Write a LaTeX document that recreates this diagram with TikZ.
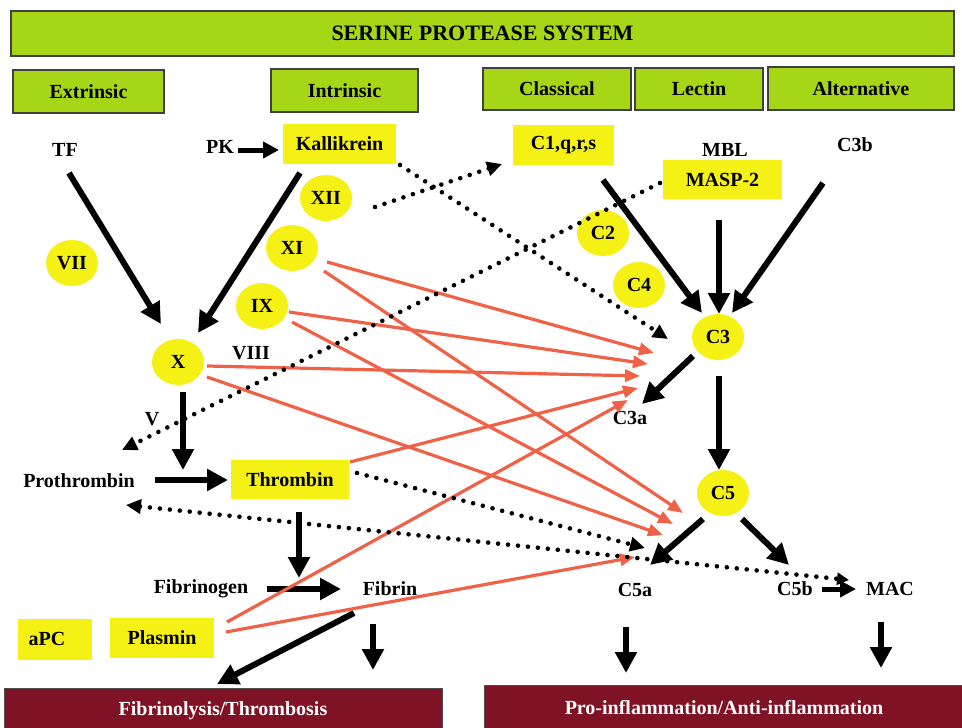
\documentclass[tikz,border=0pt]{standalone}
\usepackage{fontspec}
\setmainfont{Liberation Serif}
\usetikzlibrary{arrows.meta,shapes.geometric}
\definecolor{spgreen}{RGB}{166,214,22}
\definecolor{spyellow}{RGB}{246,241,20}
\definecolor{spred}{RGB}{240,98,72}
\definecolor{spmaroon}{RGB}{128,18,38}
\tikzset{
  txt/.style={font=\fontsize{20}{22}\selectfont\bfseries, inner sep=0pt},
  gbox/.style={txt, draw=black!75, line width=1.3pt, fill=spgreen},
  ybox/.style={txt, fill=spyellow},
  yell/.style={txt, ellipse, fill=spyellow, minimum width=52pt, minimum height=46pt},
  mbox/.style={txt, draw=black!70, line width=1pt, fill=spmaroon, text=white},
  blk/.style={line width=6pt, -{Triangle[length=21pt,width=21pt]}},
  blks/.style={line width=5pt, -{Triangle[length=16pt,width=16pt]}},
  redar/.style={draw=spred, line width=3.2pt, -{Triangle[length=15pt,width=12pt]}},
  dotl/.style={line width=4.6pt, line cap=round, dash pattern=on 0pt off 10pt},
  dotar/.style={dotl, -{Triangle[length=15pt,width=14pt]}},
  dotdbl/.style={dotl, {Triangle[length=15pt,width=14pt]}-{Triangle[length=12pt,width=12pt]}},
}
\begin{document}
\begin{tikzpicture}[x=1pt,y=-1pt]
\useasboundingbox[fill=white] (0,0) rectangle (962,728);

% header boxes
\node[gbox, minimum width=943pt, minimum height=45pt] (title) at (482.5,33.5) {\fontsize{22}{24}\selectfont SERINE PROTEASE SYSTEM};
\node[gbox, minimum width=151pt, minimum height=43pt] (extr) at (88.5,91.5) {Extrinsic};
\node[gbox, minimum width=147pt, minimum height=43pt] (intr) at (344.5,90.5) {Intrinsic};
\node[gbox, minimum width=148pt, minimum height=42pt] (class) at (557,89) {Classical};
\node[gbox, minimum width=128pt, minimum height=42pt] (lect) at (699,89) {Lectin};
\node[gbox, minimum width=186pt, minimum height=43pt] (alt) at (861,88.5) {Alternative};

% bottom boxes
\node[mbox, minimum width=438pt, minimum height=46pt] (fibro) at (223,711) {Fibrinolysis/Thrombosis};
\node[mbox, minimum width=480pt, minimum height=46pt] (infl) at (724,708) {Pro-inflammation/Anti-inflammation};

% yellow boxes
\node[ybox, minimum width=113pt, minimum height=40pt] (kall) at (339.5,144) {Kallikrein};
\node[ybox, minimum width=101pt, minimum height=40pt] (c1) at (563.5,145) {C1,q,r,s};
\node[ybox, minimum width=119pt, minimum height=39pt] (masp) at (722.5,179.5) {MASP-2};
\node[ybox, minimum width=118pt, minimum height=39pt] (thr) at (290,479.5) {Thrombin};
\node[ybox, minimum width=74pt, minimum height=41pt] (apc) at (55,639) {\hspace*{-16pt}aPC};
\node[ybox, minimum width=104pt, minimum height=40pt] (plas) at (162,638) {Plasmin};

% ellipses
\node[yell] (XII) at (326,198) {XII};
\node[yell] (XI) at (292,248) {XI};
\node[yell] (VII) at (72,263) {VII};
\node[yell] (IX) at (262,306) {IX};
\node[yell] (X) at (178,362) {X};
\node[yell] (C2) at (603,233) {C2};
\node[yell] (C4) at (639,285) {C4};
\node[yell] (C3) at (718,337) {C3};
\node[yell] (C5) at (723,493) {C5};

% plain labels
\node[txt] (TF) at (65,150) {TF};
\node[txt] (PK) at (220,147) {PK};
\node[txt] (MBL) at (725,150) {MBL};
\node[txt] (C3b) at (855,145) {C3b};
\node[txt] (VIII) at (251,353) {VIII};
\node[txt] (V) at (152,419) {V};
\node[txt] (C3a) at (630,418) {C3a};
\node[txt] (proth) at (79,481) {Prothrombin};
\node[txt] (fibg) at (201,589) {Fibrinogen};
\node[txt] (fibr) at (390,589) {Fibrin};
\node[txt] (C5a) at (635,590) {C5a};
\node[txt] (C5b) at (795,589) {C5b};
\node[txt] (MAC) at (890,589) {MAC};

% connector end points
\coordinate (pkS) at (238,150);   \coordinate (pkE) at (279,150);
\coordinate (tfS) at (69,173);    \coordinate (tfE) at (161,324);
\coordinate (kaS) at (300,173);   \coordinate (kaE) at (198,333);
\coordinate (c1S) at (603,180);   \coordinate (c1E) at (702,313);
\coordinate (maS) at (719,220);   \coordinate (maE) at (719,314);
\coordinate (cbS) at (823,183);   \coordinate (cbE) at (732,313);
\coordinate (c3aS) at (693,356);  \coordinate (c3aE) at (642,404);
\coordinate (c3S) at (719,376);   \coordinate (c3E) at (719,470);
\coordinate (xS) at (183,392);    \coordinate (xE) at (183,470);
\coordinate (prS) at (155,480);   \coordinate (prE) at (228,480);
\coordinate (thS) at (299,512);   \coordinate (thE) at (299,578);
\coordinate (fgS) at (267,589);   \coordinate (fgE) at (341,589);
\coordinate (fbS) at (354,613);   \coordinate (fbE) at (217,684);
\coordinate (fdS) at (373,624);   \coordinate (fdE) at (373,670);
\coordinate (c5aS) at (703,519);  \coordinate (c5aE) at (650,565);
\coordinate (c5bS) at (742,519);  \coordinate (c5bE) at (789,565);
\coordinate (mcS) at (822,589);   \coordinate (mcE) at (856,589);
\coordinate (c5dS) at (626,627);  \coordinate (c5dE) at (626,673);
\coordinate (madS) at (881,622);  \coordinate (madE) at (881,668);

% targets of the red arrows
\coordinate (ta1) at (654,353);
\coordinate (ta2) at (648,364);
\coordinate (ta3) at (640,376);
\coordinate (ta4) at (638,388);
\coordinate (ta5) at (628,400);
\coordinate (tb1) at (683,513);
\coordinate (tb2) at (673,524);
\coordinate (tb3) at (663,535);
\coordinate (tb4) at (635,557);
% sources of the red arrows
\coordinate (xi1) at (327,262);  \coordinate (xi2) at (324,271);
\coordinate (ix1) at (289,312);  \coordinate (ix2) at (292,322);
\coordinate (x1) at (207,366);   \coordinate (x2) at (207,377);
\coordinate (th1) at (350,462);
\coordinate (pl1) at (227,622);  \coordinate (pl2) at (226,632);

% dotted end points
\coordinate (d1S) at (375,207);  \coordinate (d1E) at (502,164);
\coordinate (d2S) at (400,165);  \coordinate (d2E) at (668,339);
\coordinate (d3S) at (660,183);  \coordinate (d3E) at (122,450);
\coordinate (d4S) at (357,473);  \coordinate (d4E) at (645,548);
\coordinate (d5S) at (126,505);  \coordinate (d5E) at (849,580);

% black arrows
\draw[blks] (pkS) -- (pkE);
\draw[blk] (tfS) -- (tfE);
\draw[blk] (kaS) -- (kaE);
\draw[blk] (c1S) -- (c1E);
\draw[blk] (maS) -- (maE);
\draw[blk] (cbS) -- (cbE);
\draw[blk] (c3aS) -- (c3aE);
\draw[blk] (c3S) -- (c3E);
\draw[blk] (xS) -- (xE);
\draw[blk] (prS) -- (prE);
\draw[blk] (thS) -- (thE);
\draw[blk] (fgS) -- (fgE);
\draw[blk] (fbS) -- (fbE);
\draw[blk] (fdS) -- (fdE);
\draw[blk] (c5aS) -- (c5aE);
\draw[blk] (c5bS) -- (c5bE);
\draw[blks] (mcS) -- (mcE);
\draw[blk] (c5dS) -- (c5dE);
\draw[blk] (madS) -- (madE);

% red arrows
\draw[redar] (xi1) -- (ta1);
\draw[redar] (ix1) -- (ta2);
\draw[redar] (x1) -- (ta3);
\draw[redar] (th1) -- (ta4);
\draw[redar] (pl1) -- (ta5);
\draw[redar] (xi2) -- (tb1);
\draw[redar] (ix2) -- (tb2);
\draw[redar] (x2) -- (tb3);
\draw[redar] (pl2) -- (tb4);

% dotted arrows
\draw[dotar] (d1S) -- (d1E);
\draw[dotar] (d2S) -- (d2E);
\draw[dotar] (d3S) -- (d3E);
\draw[dotar] (d4S) -- (d4E);
\draw[dotdbl] (d5S) -- (d5E);
\end{tikzpicture}
\end{document}
